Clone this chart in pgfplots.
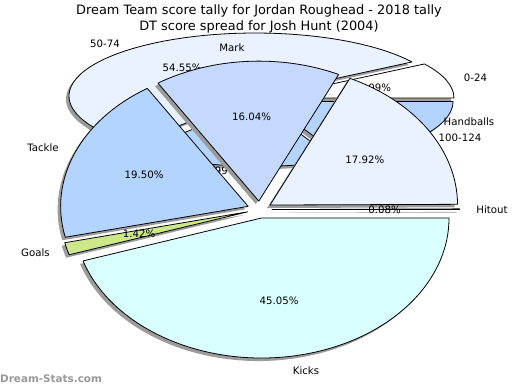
\documentclass[border=0pt]{standalone}
\usepackage{pgfplots}
\pgfplotsset{compat=1.18}
\usepackage{fontspec}
\setmainfont{DejaVu Sans}

\definecolor{shadowgray}{HTML}{9C9C9C}
\definecolor{kickscol}{HTML}{D9FFFF}
\definecolor{hbcol}{HTML}{EAF1FF}
\definecolor{markcol}{HTML}{C5D9FF}
\definecolor{tacklecol}{HTML}{B3D4FF}
\definecolor{goalscol}{HTML}{CCE88A}
\definecolor{fiftycol}{HTML}{EAF1FF}
\definecolor{lightblue}{HTML}{B3D4FF}

% generic slice: #1 cx, #2 cy, #3 rx, #4 ry, #5 explode x, #6 explode y, #7 start %, #8 value %, #9 colour
\newcommand{\pieslice}[9]{%
  \filldraw[fill=#9, draw=black, line width=0.8pt, line join=round]
   (axis cs:{#1+#5*cos(3.6*(#7+#8/2))},{#2-#6*sin(3.6*(#7+#8/2))})
   -- ++({3.6*#7}:#3pt and #4pt)
   arc[start angle={3.6*#7}, delta angle={3.6*#8}, x radius=#3pt, y radius=#4pt] -- cycle;}
\newcommand{\pieshadow}[8]{%
  \fill[shadowgray]
   (axis cs:{#1+#5*cos(3.6*(#7+#8/2))-3},{#2-#6*sin(3.6*(#7+#8/2))+3})
   -- ++({3.6*#7}:#3pt and #4pt)
   arc[start angle={3.6*#7}, delta angle={3.6*#8}, x radius=#3pt, y radius=#4pt] -- cycle;}
\newcommand{\piepct}[8]{%
  \node[lbl] at (axis cs:{#1+(#5+0.6*#3)*cos(3.6*(#7+#8/2))},{#2-(#6+0.6*#4)*sin(3.6*(#7+#8/2))}) {#8\%};}

% pie A: Jordan Roughead 2018 tally (background pie)
\newcommand{\Aslice}[3]{\pieslice{260.3}{99.2}{186.3}{63}{7.7}{4.2}{#1}{#2}{#3}}
\newcommand{\Ashadow}[2]{\pieshadow{260.3}{99.2}{186.3}{63}{7.7}{4.2}{#1}{#2}}
\newcommand{\Apct}[2]{\piepct{260.3}{99.2}{186.3}{63}{7.7}{4.2}{#1}{#2}}
% pie B: Josh Hunt (2004) score spread (front pie)
\newcommand{\Bslice}[3]{\pieslice{259.6}{209.6}{187.5}{140}{12.4}{8.5}{#1}{#2}{#3}}
\newcommand{\Bshadow}[2]{\pieshadow{259.6}{209.6}{187.5}{140}{12.4}{8.5}{#1}{#2}}
\newcommand{\Bpct}[2]{\piepct{259.6}{209.6}{187.5}{140}{12.4}{8.5}{#1}{#2}}

\tikzset{lbl/.style={inner sep=0pt, anchor=center, text height=7.4pt, text depth=0pt,
  font=\fontsize{10.2}{12}\selectfont, text=black}}

\begin{document}
\begin{tikzpicture}
\begin{axis}[x=1pt, y=1pt, xmin=0, xmax=520, ymin=0, ymax=390, y dir=reverse,
  hide axis, clip=false]
\fill[white] (axis cs:0,0) rectangle (axis cs:520,390);

% ---- pie A: start %, value %
\Ashadow{0}{9.09}
\Ashadow{9.09}{54.55}
\Ashadow{63.64}{18.18}
\Ashadow{81.82}{18.18}
\Aslice{0}{9.09}{white}
\Aslice{9.09}{54.55}{fiftycol}
\Aslice{63.64}{18.18}{lightblue}
\Aslice{81.82}{18.18}{lightblue}
\Apct{0}{9.09}
\Apct{9.09}{54.55}
\Apct{63.64}{18.18}
\Apct{81.82}{18.18}
\node[lbl] at (axis cs:105,44) {50-74};
\node[lbl] at (axis cs:475.5,78) {0-24};
\node[lbl] at (axis cs:213,171) {75-99};
\node[lbl] at (axis cs:460,138) {100-124};

% ---- pie B: start %, value %
\Bshadow{0}{0.08}
\Bshadow{0.08}{17.92}
\Bshadow{18.00}{16.04}
\Bshadow{34.04}{19.50}
\Bshadow{53.54}{1.42}
\Bshadow{54.96}{45.05}
\Bslice{0}{0.08}{white}
\Bslice{0.08}{17.92}{hbcol}
\Bslice{18.00}{16.04}{markcol}
\Bslice{34.04}{19.50}{tacklecol}
\Bslice{53.54}{1.42}{goalscol}
\Bslice{54.96}{45.05}{kickscol}
\Bpct{0}{0.08}
\Bpct{0.08}{17.92}
\Bpct{18.00}{16.04}
\Bpct{34.04}{19.50}
\Bpct{53.54}{1.42}
\Bpct{54.96}{45.05}
\node[lbl] at (axis cs:492,210) {Hitout};
\node[lbl] at (axis cs:469,122) {Handballs};
\node[lbl] at (axis cs:232,48) {Mark};
\node[lbl] at (axis cs:43,148) {Tackle};
\node[lbl] at (axis cs:35.5,253) {Goals};
\node[lbl] at (axis cs:306,371) {Kicks};

% titles
\node[lbl, font=\fontsize{12.9}{15}\selectfont, text height=9.4pt] at (axis cs:259,10) {Dream Team score tally for Jordan Roughead - 2018 tally};
\node[lbl, font=\fontsize{12.9}{15}\selectfont, text height=9.4pt] at (axis cs:259,25.7) {DT score spread for Josh Hunt (2004)};
\node[lbl, anchor=west, font=\bfseries\fontsize{10.4}{12}\selectfont, text=black!40] at (axis cs:0,379) {Dream-Stats.com};
\end{axis}
\end{tikzpicture}
\end{document}
